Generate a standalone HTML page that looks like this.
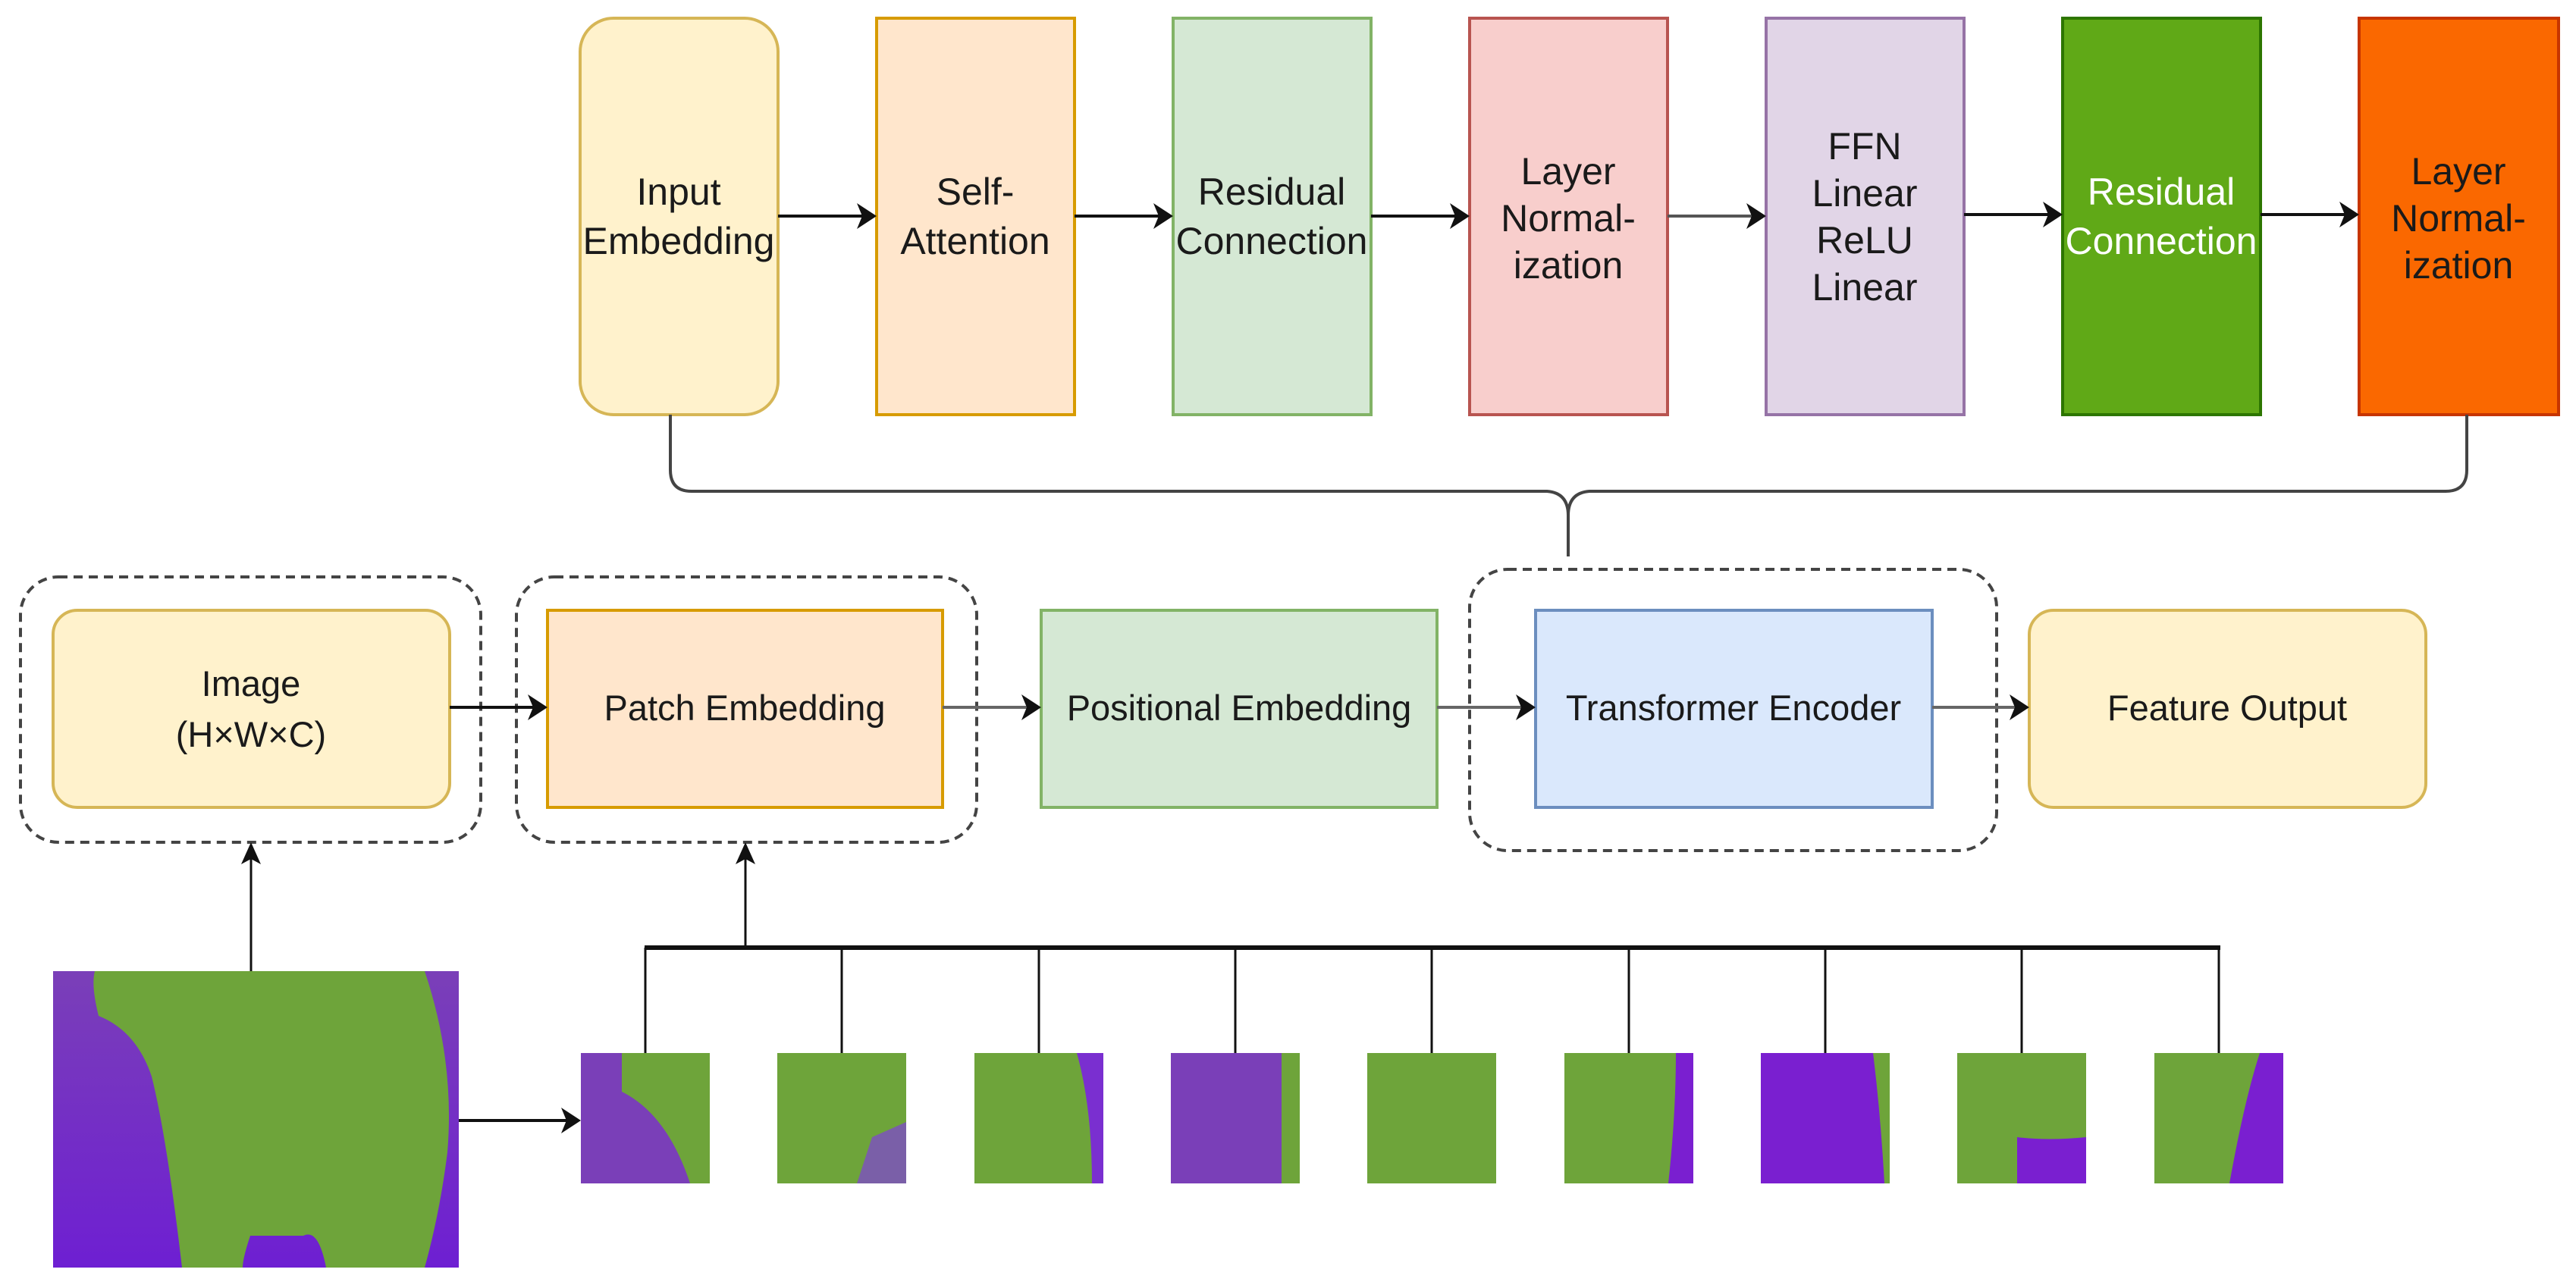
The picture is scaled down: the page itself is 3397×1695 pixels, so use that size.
<!DOCTYPE html>
<html><head><meta charset="utf-8"><style>
html,body{margin:0;padding:0;background:#fff;}
svg{display:block;}
text{font-family:"Liberation Sans",sans-serif;fill:#1a1a1a;}
</style></head><body>
<svg width="3397" height="1695" viewBox="0 0 3397 1695" xmlns="http://www.w3.org/2000/svg">
<defs>
<marker id="ah" viewBox="0 0 10 10" refX="9" refY="5" markerWidth="7" markerHeight="7" markerUnits="userSpaceOnUse" orient="auto">
</marker>
<linearGradient id="pg" x1="0" y1="0" x2="0" y2="1"><stop offset="0" stop-color="#7a3fb8"/><stop offset="1" stop-color="#6e1fd2"/></linearGradient>
</defs>
<g stroke-width="4">
<!-- top row -->
<rect x="765" y="24" width="261" height="523" rx="44" fill="#fff2cc" stroke="#d6b656"/>
<rect x="1156" y="24" width="261" height="523" fill="#ffe6cc" stroke="#d79b00"/>
<rect x="1547" y="24" width="261" height="523" fill="#d5e8d4" stroke="#82b366"/>
<rect x="1938" y="24" width="261" height="523" fill="#f8cecc" stroke="#b85450"/>
<rect x="2329" y="24" width="261" height="523" fill="#e1d5e7" stroke="#9673a6"/>
<rect x="2720" y="24" width="261" height="523" fill="#60a917" stroke="#2d7600"/>
<rect x="3111" y="24" width="263" height="523" fill="#fa6800" stroke="#c73500"/>
</g>
<g font-size="50" text-anchor="middle">
<text x="895" y="270">Input</text><text x="895" y="335">Embedding</text>
<text x="1286" y="270">Self-</text><text x="1286" y="335">Attention</text>
<text x="1677" y="270">Residual</text><text x="1677" y="335">Connection</text>
<text x="2068" y="243">Layer</text><text x="2068" y="305">Normal-</text><text x="2068" y="367">ization</text>
<text x="2459" y="210">FFN</text><text x="2459" y="272">Linear</text><text x="2459" y="334">ReLU</text><text x="2459" y="396">Linear</text>
<text x="2850" y="270" style="fill:#fff">Residual</text><text x="2850" y="335" style="fill:#fff">Connection</text>
<text x="3242" y="243">Layer</text><text x="3242" y="305">Normal-</text><text x="3242" y="367">ization</text>
</g>
<g stroke="#111" stroke-width="4" fill="none">
<line x1="1026" y1="285" x2="1140" y2="285"/>
<line x1="1417" y1="285" x2="1531" y2="285"/>
<line x1="1808" y1="285" x2="1922" y2="285"/>
<line x1="2199" y1="285" x2="2313" y2="285" stroke="#555"/>
<line x1="2590" y1="283" x2="2704" y2="283"/>
<line x1="2981" y1="283" x2="3095" y2="283"/>
</g>
<g fill="#111">
<polygon points="1156,285 1130,268 1137,285 1130,302"/>
<polygon points="1547,285 1521,268 1528,285 1521,302"/>
<polygon points="1938,285 1912,268 1919,285 1912,302"/>
<polygon points="2329,285 2303,268 2310,285 2303,302"/>
<polygon points="2720,283 2694,266 2701,283 2694,300"/>
<polygon points="3111,283 3085,266 3092,283 3085,300"/>
</g>
<!-- bracket -->
<path d="M884,547 V620 Q884,648 912,648 H2040 Q2068,650 2068,680 V734 M2068,680 Q2068,650 2096,648 H3225 Q3253,648 3253,620 V547" stroke="#444" stroke-width="4" fill="none"/>
<!-- dashed groups -->
<g stroke="#444" stroke-width="4" stroke-dasharray="12,8" fill="none">
<rect x="27" y="761" width="607" height="350" rx="50"/>
<rect x="681" y="761" width="607" height="350" rx="50"/>
<rect x="1938" y="751" width="695" height="371" rx="50"/>
</g>
<g stroke-width="4">
<rect x="70" y="805" width="523" height="260" rx="32" fill="#fff2cc" stroke="#d6b656"/>
<rect x="722" y="805" width="521" height="260" fill="#ffe6cc" stroke="#d79b00"/>
<rect x="1373" y="805" width="522" height="260" fill="#d5e8d4" stroke="#82b366"/>
<rect x="2025" y="805" width="523" height="260" fill="#dae8fc" stroke="#6c8ebf"/>
<rect x="2676" y="805" width="523" height="260" rx="32" fill="#fff2cc" stroke="#d6b656"/>
</g>
<g font-size="47" text-anchor="middle">
<text x="331" y="918">Image</text><text x="331" y="985">(H×W×C)</text>
<text x="982" y="950">Patch Embedding</text>
<text x="1634" y="950">Positional Embedding</text>
<text x="2286" y="950">Transformer Encoder</text>
<text x="2937" y="950">Feature Output</text>
</g>
<g stroke="#111" stroke-width="4">
<line x1="593" y1="933" x2="706" y2="933"/>
<line x1="1243" y1="933" x2="1357" y2="933" stroke="#666"/>
<line x1="1895" y1="933" x2="2009" y2="933" stroke="#666"/>
<line x1="2548" y1="933" x2="2660" y2="933" stroke="#666"/>
<line x1="331" y1="1281" x2="331" y2="1125" stroke-width="3"/>
<line x1="983" y1="1250" x2="983" y2="1125" stroke-width="3"/>
<line x1="605" y1="1478" x2="750" y2="1478"/>
<line x1="850" y1="1250" x2="2928" y2="1250" stroke-width="6"/>
</g>
<g fill="#111">
<polygon points="722,933 696,916 703,933 696,950"/>
<polygon points="1373,933 1347,916 1354,933 1347,950"/>
<polygon points="2025,933 1999,916 2006,933 1999,950"/>
<polygon points="2676,933 2650,916 2657,933 2650,950"/>
<polygon points="331,1111 318,1140 331,1133 344,1140"/>
<polygon points="983,1111 970,1140 983,1133 996,1140"/>
<polygon points="766,1478 740,1461 747,1478 740,1495"/>
</g>
<!-- big image -->
<rect x="70" y="1281" width="535" height="391" fill="url(#pg)"/>
<path d="M125,1281 H560 Q600,1400 590,1520 Q580,1600 560,1672 H430 Q420,1620 400,1630 H330 Q320,1660 320,1672 H240 Q220,1500 200,1420 Q180,1360 130,1340 Q120,1300 125,1281 Z" fill="#6ea43a"/>
<!-- patches -->
<g stroke="#111" stroke-width="3">
<line x1="851" y1="1250" x2="851" y2="1389"/>
<line x1="1110" y1="1250" x2="1110" y2="1389"/>
<line x1="1370" y1="1250" x2="1370" y2="1389"/>
<line x1="1629" y1="1250" x2="1629" y2="1389"/>
<line x1="1888" y1="1250" x2="1888" y2="1389"/>
<line x1="2148" y1="1250" x2="2148" y2="1389"/>
<line x1="2407" y1="1250" x2="2407" y2="1389"/>
<line x1="2666" y1="1250" x2="2666" y2="1389"/>
<line x1="2926" y1="1250" x2="2926" y2="1389"/>
</g>
<g>
<rect x="766" y="1389" width="170" height="172" fill="#7a3fb8"/><path d="M820,1389 H936 V1561 H910 Q880,1470 820,1440 Z" fill="#6ea43a"/>
<rect x="1025" y="1389" width="170" height="172" fill="#6ea43a"/><path d="M1150,1500 L1195,1480 V1561 H1130 Z" fill="#7a5fa8"/>
<rect x="1285" y="1389" width="170" height="172" fill="#6ea43a"/><path d="M1420,1389 H1455 V1561 H1440 Q1440,1460 1420,1389 Z" fill="#7a2fd0"/>
<rect x="1544" y="1389" width="170" height="172" fill="#7a3fb8"/><rect x="1690" y="1389" width="24" height="172" fill="#6ea43a"/>
<rect x="1803" y="1389" width="170" height="172" fill="#6ea43a"/>
<rect x="2063" y="1389" width="170" height="172" fill="#6ea43a"/><path d="M2210,1389 H2233 V1561 H2200 Q2210,1470 2210,1389 Z" fill="#7a1fd0"/>
<rect x="2322" y="1389" width="170" height="172" fill="#7a1fd0"/><path d="M2470,1389 H2492 V1561 H2485 Q2480,1470 2470,1389 Z" fill="#6ea43a"/>
<rect x="2581" y="1389" width="170" height="172" fill="#6ea43a"/><path d="M2660,1561 V1500 Q2700,1505 2751,1500 V1561 Z" fill="#7a1fd0"/>
<rect x="2841" y="1389" width="170" height="172" fill="#6ea43a"/><path d="M2940,1561 Q2960,1450 2980,1389 H3011 V1561 Z" fill="#7a1fd0"/>
</g>
</svg>
</body></html>
